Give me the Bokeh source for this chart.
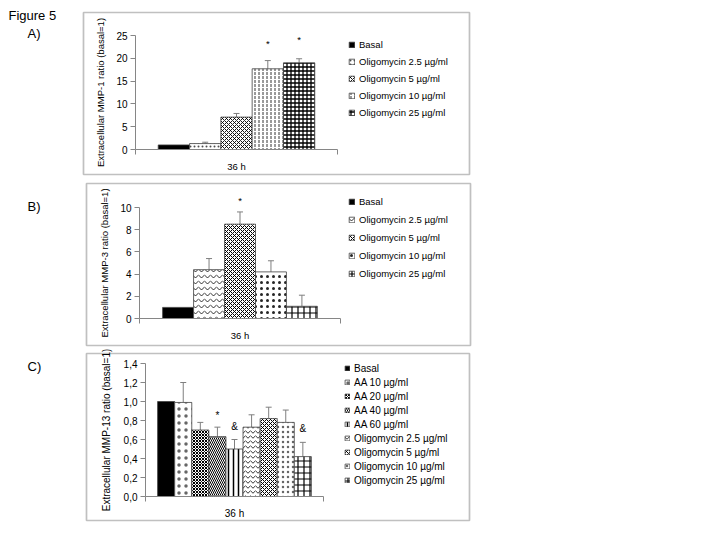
from bokeh.plotting import figure
from bokeh.models import (Range1d, FixedTicker, ColumnDataSource, Legend, LegendItem,
                          BoxAnnotation, Label, LabelSet, Whisker, TeeHead,
                          CustomJSTickFormatter)
from bokeh.layouts import column
from bokeh.core.properties import value
from bokeh.embed import file_html
from bokeh.resources import INLINE

# ---------------- data ----------------
category = "36 h"

a_series = ["Basal", "Oligomycin 2.5 µg/ml", "Oligomycin 5 µg/ml",
            "Oligomycin 10 µg/ml", "Oligomycin 25 µg/ml"]
a_values = [1.0, 1.3, 7.1, 17.7, 19.0]
a_sd = [0.0, 0.3, 0.8, 1.8, 0.9]
a_marks = ["", "", "", "*", "*"]
a_mark_y = [0, 0, 0, 23.2, 24.2]
a_yticks = [0, 5, 10, 15, 20, 25]
a_ytitle = "Extracellular MMP-1 ratio (basal=1)"

b_series = ["Basal", "Oligomycin 2.5 µg/ml", "Oligomycin 5 µg/ml",
            "Oligomycin 10 µg/ml", "Oligomycin 25 µg/ml"]
b_values = [1.0, 4.4, 8.5, 4.2, 1.1]
b_sd = [0.0, 1.0, 1.1, 1.0, 1.0]
b_marks = ["", "", "*", "", ""]
b_mark_y = [0, 0, 10.6, 0, 0]
b_yticks = [0, 2, 4, 6, 8, 10]
b_ytitle = "Extracellular MMP-3 ratio (basal=1)"

c_series = ["Basal", "AA 10 µg/ml", "AA 20 µg/ml", "AA 40 µg/ml", "AA 60 µg/ml",
            "Oligomycin 2.5 µg/ml", "Oligomycin 5 µg/ml", "Oligomycin 10 µg/ml",
            "Oligomycin 25 µg/ml"]
c_values = [1.0, 0.99, 0.70, 0.63, 0.50, 0.73, 0.82, 0.78, 0.42]
c_sd = [0.0, 0.21, 0.08, 0.10, 0.10, 0.13, 0.12, 0.13, 0.15]
c_marks = ["", "", "", "*", "&", "", "", "", "&"]
c_mark_y = [0, 0, 0, 0.85, 0.74, 0, 0, 0, 0.72]
c_yticks = [0.0, 0.2, 0.4, 0.6, 0.8, 1.0, 1.2, 1.4]
c_ytitle = "Extracellular MMP-13 ratio (basal=1)"

figure_title = "Figure 5"
panel_labels = ["A)", "B)", "C)"]

# ---------------- styles / layout ----------------
FONT = "Liberation Sans"
AXC = "#868686"
W = 480
OFF_X, OFF_Y = 0, 0

a_style = dict(fill=["black", "white", "white", "white", "white"],
               hatch=[" ", "dot", "diagonal_cross", "vertical_dash", "cross"],
               scale=[4, 4, 4, 4, 4], weight=[1, 0.6, 0.9, 0.8, 1.3],
               alpha=[1, 0.7, 1, 1, 1])
b_style = dict(fill=["black", "white", "white", "white", "white"],
               hatch=[" ", "horizontal_wave", "diagonal_cross", "dot", "cross"],
               scale=[4, 6, 4, 6, 6], weight=[1, 0.8, 1, 0.8, 1.2],
               alpha=[1, 1, 1, 0.85, 1])
c_style = dict(fill=["black", "white", "white", "white", "white", "white", "white", "white", "white"],
               hatch=[" ", "dot", "diagonal_cross", "left_diagonal_line", "vertical_line",
                      "horizontal_wave", "diagonal_cross", "dot", "cross"],
               scale=[4, 7, 3, 4, 5, 5, 4, 5, 6], weight=[1, 0.6, 1, 1, 1.5, 0.8, 1, 0.6, 1.2],
               alpha=[1, 0.6, 1, 1, 1, 1, 1, 0.6, 1])

# image-space geometry (pixels): plot area, panel box, figure strip
a_geo = dict(plot=(135, 35, 337, 149), fig_top=0, fig_h=177, bw=0.155,
             box=(83, 12, 469, 174), font="9.5px", tick_font="10px", glyph_left=348,
             first_center=44, label_h=14, spacing=3, glyph=7, ystand=7, label_pos=(27, 25))
b_geo = dict(plot=(139, 207, 340, 318), fig_top=177, fig_h=172, bw=0.154,
             box=(86, 183, 470, 345), font="9.5px", tick_font="10px", glyph_left=348,
             first_center=201.7, label_h=15, spacing=3, glyph=7, ystand=7, label_pos=(27, 198))
c_geo = dict(plot=(145, 363, 323, 496), fig_top=349, fig_h=178, bw=0.096,
             box=(86, 353, 469, 520), font="10px", tick_font="10px", glyph_left=344,
             first_center=368.4, label_h=12, spacing=2, glyph=6, ystand=9, label_pos=(27, 358))


def build(series, values, sd, marks, mark_y, yticks, ytitle, style, geo, plabel,
          comma=False, title=None):
    pl, pt, pr, pb = geo["plot"]
    X0, Y0, H = OFF_X, geo["fig_top"] + OFF_Y, geo["fig_h"]
    ymax = yticks[-1]
    # data ranges chosen so that [0,1] x [0,ymax] fills the plot area
    xr = Range1d((X0 - pl) / (pr - pl), (X0 + W - pl) / (pr - pl))
    yr = Range1d((pb - (Y0 + H)) / (pb - pt) * ymax, (pb - Y0) / (pb - pt) * ymax)
    fs = geo["font"]
    tfs = geo["tick_font"]
    p = figure(width=W, height=H, frame_width=W, frame_height=H,
               min_border=0, min_border_left=0, min_border_right=0,
               min_border_top=0, min_border_bottom=0,
               x_range=xr, y_range=yr,
               toolbar_location=None, output_backend="svg", title=None)
    p.xgrid.visible = False
    p.ygrid.visible = False
    p.outline_line_color = None
    p.background_fill_color = "white"
    p.border_fill_color = "white"

    def sx(img_x):
        return img_x - X0

    def sy(img_y):
        return (Y0 + H) - img_y

    n = len(series)
    bw = geo["bw"]
    x0 = (1 - n * bw) / 2
    xs = [x0 + (i + 0.5) * bw for i in range(n)]
    src = ColumnDataSource(dict(x=xs, top=values, name=series, fill=style["fill"],
                                hatch=style["hatch"], hs=style["scale"], hw=style["weight"],
                                ha=style["alpha"]))
    bars = p.vbar(x="x", top="top", bottom=0, width=bw, source=src,
                  fill_color="fill", line_color="#404040", line_width=0.8,
                  hatch_pattern="hatch", hatch_scale="hs", hatch_weight="hw",
                  hatch_alpha="ha", hatch_color="black")

    ei = [i for i in range(n) if sd[i] > 0]
    esrc = ColumnDataSource(dict(x=[xs[i] for i in ei], lo=[values[i] for i in ei],
                                 up=[values[i] + sd[i] for i in ei]))
    p.add_layout(Whisker(base="x", lower="lo", upper="up", source=esrc,
                         line_color="#7f7f7f", line_width=1, lower_head=None,
                         upper_head=TeeHead(size=6, line_color="#7f7f7f", line_width=1)))

    mi = [i for i in range(n) if marks[i]]
    msrc = ColumnDataSource(dict(x=[xs[i] for i in mi], y=[mark_y[i] for i in mi],
                                 t=[marks[i] for i in mi]))
    p.add_layout(LabelSet(x="x", y="y", text="t", source=msrc, text_align="center",
                          text_baseline="middle", text_font=value(FONT),
                          text_font_size=fs, text_color="black"))

    xa = p.xaxis[0]
    xa.fixed_location = 0
    xa.bounds = (0, 1)
    xa.ticker = FixedTicker(ticks=[0.5], minor_ticks=[0, 1])
    xa.formatter = CustomJSTickFormatter(args=dict(label=category), code="return label;")
    xa.major_tick_line_color = None
    xa.major_tick_out = 5
    xa.major_tick_in = 0
    xa.minor_tick_line_color = AXC
    xa.minor_tick_out = 5
    xa.minor_tick_in = 0
    xa.axis_line_color = AXC
    xa.major_label_text_font = FONT
    xa.major_label_text_font_size = fs
    xa.major_label_text_color = "black"
    xa.major_label_standoff = 6

    ya = p.yaxis[0]
    ya.fixed_location = 0
    ya.bounds = (0, ymax)
    ya.ticker = FixedTicker(ticks=yticks)
    if comma:
        ya.formatter = CustomJSTickFormatter(code="return tick.toFixed(1).replace('.', ',');")
    ya.minor_tick_line_color = None
    ya.major_tick_out = 5
    ya.major_tick_in = 0
    ya.major_tick_line_color = AXC
    ya.axis_line_color = AXC
    ya.major_label_text_font = FONT
    ya.major_label_text_font_size = tfs
    ya.major_label_text_color = "black"
    ya.major_label_standoff = 3
    ya.axis_label = ytitle
    ya.axis_label_text_font = FONT
    ya.axis_label_text_font_size = fs
    ya.axis_label_text_font_style = "normal"
    ya.axis_label_text_color = "black"
    ya.axis_label_standoff = geo["ystand"]

    lh, sp = geo["label_h"], geo["spacing"]
    row_top = geo["first_center"] - lh / 2
    bottom = row_top + n * lh + (n - 1) * sp
    items = [LegendItem(label=series[i], renderers=[bars], index=i) for i in range(n)]
    lg = Legend(items=items, location=(sx(geo["glyph_left"]), sy(bottom)),
                padding=0, margin=0, spacing=sp, label_height=lh,
                glyph_width=geo["glyph"], glyph_height=geo["glyph"], label_standoff=4,
                label_text_font=FONT, label_text_font_size=fs, label_text_color="black",
                border_line_color=None, background_fill_alpha=0)
    p.add_layout(lg)

    bx0, by0, bx1, by1 = geo["box"]
    p.add_layout(BoxAnnotation(left=sx(bx0), right=sx(bx1), top=sy(by0), bottom=sy(by1),
                               left_units="screen", right_units="screen",
                               top_units="screen", bottom_units="screen",
                               fill_color=None, line_color="#2e2e2e", line_width=1.7))

    lx, ly = geo["label_pos"]
    p.add_layout(Label(x=sx(lx), y=sy(ly), x_units="screen", y_units="screen",
                       text=plabel, text_baseline="top", text_align="left",
                       text_font=FONT, text_font_size="13px", text_color="black"))
    if title:
        p.add_layout(Label(x=sx(8), y=sy(7), x_units="screen", y_units="screen",
                           text=title, text_baseline="top", text_align="left",
                           text_font=FONT, text_font_size="13px", text_color="black"))
    return p


pa = build(a_series, a_values, a_sd, a_marks, a_mark_y, a_yticks, a_ytitle, a_style,
           a_geo, panel_labels[0], title=figure_title)
pb = build(b_series, b_values, b_sd, b_marks, b_mark_y, b_yticks, b_ytitle, b_style,
           b_geo, panel_labels[1])
pc = build(c_series, c_values, c_sd, c_marks, c_mark_y, c_yticks, c_ytitle, c_style,
           c_geo, panel_labels[2], comma=True)

layout = column(pa, pb, pc, spacing=0)
open("out.html", "w").write(file_html(layout, INLINE))
